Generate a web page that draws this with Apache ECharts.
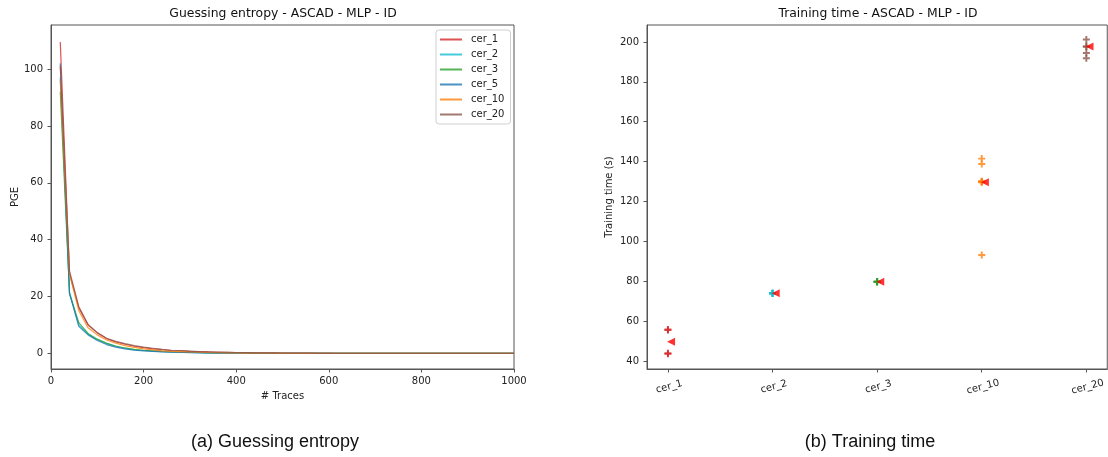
<!DOCTYPE html>
<html>
<head>
<meta charset="utf-8">
<script src="https://cdn.jsdelivr.net/npm/echarts@6/dist/echarts.min.js"></script>
<style>
  html, body { margin: 0; padding: 0; background: #fff; }
  #chart { width: 1108px; height: 457px; }
</style>
</head>
<body>
<div id="chart"></div>
<script>
// --- guessing entropy (left) ---
const traces = [20, 40, 60, 80, 100, 120, 140, 160, 180, 200, 220, 240, 260, 280, 300, 320, 340, 360, 380, 400,
  420, 440, 460, 480, 500, 520, 540, 560, 580, 600, 620, 640, 660, 680, 700, 720, 740, 760, 780, 800,
  820, 840, 860, 880, 900, 920, 940, 960, 980, 1000];
const geNames = ['cer_1', 'cer_2', 'cer_3', 'cer_5', 'cer_10', 'cer_20'];
const geCer1 = [109.5, 28, 16, 10, 7.2, 5.2, 4.0, 3.2, 2.5, 2.0, 1.6, 1.3, 1.0, 0.9, 0.7, 0.6, 0.5, 0.4, 0.35, 0.3,
  0.25, 0.2, 0.2, 0.15, 0.1, 0.1, 0.1, 0.05, 0.05, 0.05, 0, 0, 0, 0, 0, 0, 0, 0, 0, 0, 0, 0, 0, 0, 0, 0, 0, 0, 0, 0];
const geCer2 = [97, 21.5, 10, 6.8, 4.8, 3.4, 2.4, 1.7, 1.2, 1.0, 0.8, 0.6, 0.5, 0.4, 0.3, 0.25, 0.2, 0.15, 0.1, 0.1,
  0.05, 0.05, 0, 0, 0, 0, 0, 0, 0, 0, 0, 0, 0, 0, 0, 0, 0, 0, 0, 0, 0, 0, 0, 0, 0, 0, 0, 0, 0, 0];
const geCer3 = [92, 21, 10.8, 7, 5, 3.6, 2.6, 1.9, 1.4, 1.1, 0.9, 0.7, 0.55, 0.45, 0.35, 0.3, 0.2, 0.15, 0.1, 0.1,
  0.05, 0.05, 0, 0, 0, 0, 0, 0, 0, 0, 0, 0, 0, 0, 0, 0, 0, 0, 0, 0, 0, 0, 0, 0, 0, 0, 0, 0, 0, 0];
const geCer5 = [102, 21, 9.5, 6.5, 4.5, 3.1, 2.2, 1.6, 1.1, 0.9, 0.7, 0.5, 0.4, 0.3, 0.25, 0.2, 0.15, 0.1, 0.1, 0.05,
  0.05, 0, 0, 0, 0, 0, 0, 0, 0, 0, 0, 0, 0, 0, 0, 0, 0, 0, 0, 0, 0, 0, 0, 0, 0, 0, 0, 0, 0, 0];
const geCer10 = [96, 28, 15, 9, 6.5, 4.7, 3.6, 2.7, 2.1, 1.6, 1.2, 0.9, 0.7, 0.6, 0.5, 0.4, 0.3, 0.25, 0.2, 0.15,
  0.1, 0.1, 0.05, 0.05, 0, 0, 0, 0, 0, 0, 0, 0, 0, 0, 0, 0, 0, 0, 0, 0, 0, 0, 0, 0, 0, 0, 0, 0, 0, 0];
const geCer20 = [101, 29, 16.5, 10.2, 7.3, 5.3, 4.2, 3.4, 2.7, 2.2, 1.8, 1.4, 1.1, 1.0, 0.8, 0.6, 0.5, 0.45, 0.4, 0.3,
  0.25, 0.2, 0.15, 0.15, 0.1, 0.1, 0.05, 0.05, 0, 0, 0, 0, 0, 0, 0, 0, 0, 0, 0, 0, 0, 0, 0, 0, 0, 0, 0, 0, 0, 0];
const geValues = [geCer1, geCer2, geCer3, geCer5, geCer10, geCer20];
const geColors = ['#d62728', '#17becf', '#2ca02c', '#1f77b4', '#ff7f0e', '#8c564b'];
const geTicksY = [0, 20, 40, 60, 80, 100];

// --- training time (right) ---
const ttCategories = ['cer_1', 'cer_2', 'cer_3', 'cer_10', 'cer_20'];
const ttRuns = [
  [55.8, 55.5, 43.9, 43.6],
  [74.1, 73.9, 74.0, 73.8],
  [79.8, 79.6, 79.7, 79.9],
  [141.5, 138.8, 130.0, 129.6, 130.2, 129.8, 93.2],
  [201.2, 197.8, 197.6, 194.5, 191.8]
];
const ttMeans = [49.7, 74.0, 79.7, 129.7, 197.7];
const ttColors = ['#d62728', '#17becf', '#2ca02c', '#ff7f0e', '#8c564b'];
const ttTicksY = [40, 60, 80, 100, 120, 140, 160, 180, 200];
const meanShift = 0.03;

const FONT = 'DejaVu Sans';
const plusPath = 'path://M-1.1,-4 L1.1,-4 L1.1,-1.1 L4,-1.1 L4,1.1 L1.1,1.1 L1.1,4 L-1.1,4 L-1.1,1.1 L-4,1.1 L-4,-1.1 L-1.1,-1.1 Z';

const axisCommon = {
  axisLine: { show: true, onZero: false, lineStyle: { color: '#555', width: 1 } },
  axisTick: { show: true, inside: false, length: 3.5, lineStyle: { color: '#555' } },
  splitLine: { show: false },
  axisLabel: { color: '#222', fontFamily: FONT, fontSize: 10 },
  nameTextStyle: { color: '#222', fontFamily: FONT, fontSize: 10 }
};

const chart = echarts.init(document.getElementById('chart'));

const series = [];
geNames.forEach((name, i) => {
  series.push({
    name: name,
    type: 'line',
    xAxisIndex: 0,
    yAxisIndex: 0,
    showSymbol: false,
    symbol: 'none',
    animation: false,
    data: traces.map((t, j) => [t, geValues[i][j]]),
    itemStyle: { color: geColors[i], opacity: 0.8 },
    lineStyle: { color: geColors[i], width: 1.2, opacity: 0.8 }
  });
});
ttRuns.forEach((runs, i) => {
  series.push({
    type: 'scatter',
    xAxisIndex: 1,
    yAxisIndex: 1,
    symbol: plusPath,
    symbolSize: 7,
    animation: false,
    itemStyle: { color: ttColors[i] },
    data: runs.map(v => [i, v])
  });
});
series.push({
  type: 'scatter',
  xAxisIndex: 1,
  yAxisIndex: 1,
  symbol: 'triangle',
  symbolRotate: 90,
  symbolSize: 8,
  animation: false,
  itemStyle: { color: '#ff0000' },
  data: ttMeans.map((v, i) => [i + meanShift, v])
});

const option = {
  backgroundColor: '#fff',
  animation: false,
  textStyle: { fontFamily: FONT },
  grid: [
    { left: 51, top: 25, width: 463, height: 344, show: true, borderColor: '#555', borderWidth: 1, backgroundColor: 'transparent' },
    { left: 647, top: 25, width: 463, height: 344, show: true, borderColor: '#555', borderWidth: 1, backgroundColor: 'transparent' }
  ],
  legend: {
    data: geNames,
    orient: 'vertical',
    left: 436,
    top: 30,
    padding: [4, 6, 4, 4],
    itemWidth: 22,
    itemHeight: 2,
    itemGap: 4,
    icon: 'rect',
    backgroundColor: '#fff',
    borderColor: '#d0d0d0',
    borderWidth: 1,
    borderRadius: 3,
    textStyle: { color: '#222', fontFamily: FONT, fontSize: 10, lineHeight: 11, padding: [0, 0, 0, 4] }
  },
  xAxis: [
    Object.assign({}, axisCommon, {
      gridIndex: 0, type: 'value', min: 0, max: 1000, interval: 200,
      name: '# Traces', nameLocation: 'middle', nameGap: 22,
      axisLabel: Object.assign({}, axisCommon.axisLabel, { margin: 7, formatter: v => String(v) })
    }),
    Object.assign({}, axisCommon, {
      gridIndex: 1, type: 'value', min: -0.2, max: 4.2,
      axisTick: Object.assign({}, axisCommon.axisTick, { customValues: [0, 1, 2, 3, 4] }),
      axisLabel: Object.assign({}, axisCommon.axisLabel, {
        customValues: [0, 1, 2, 3, 4],
        rotate: 15, align: 'center', verticalAlign: 'top', margin: 13,
        formatter: v => ttCategories[Math.round(v)]
      })
    })
  ],
  yAxis: [
    Object.assign({}, axisCommon, {
      gridIndex: 0, type: 'value', min: -5.5, max: 115.5,
      name: 'PGE', nameLocation: 'middle', nameGap: 31,
      axisTick: Object.assign({}, axisCommon.axisTick, { customValues: geTicksY }),
      axisLabel: Object.assign({}, axisCommon.axisLabel, { customValues: geTicksY, margin: 8 })
    }),
    Object.assign({}, axisCommon, {
      gridIndex: 1, type: 'value', min: 36, max: 208.5,
      name: 'Training time (s)', nameLocation: 'middle', nameGap: 33,
      axisTick: Object.assign({}, axisCommon.axisTick, { customValues: ttTicksY }),
      axisLabel: Object.assign({}, axisCommon.axisLabel, { customValues: ttTicksY, margin: 8 })
    })
  ],
  graphic: [
    { type: 'text', x: 283, y: 14, style: { text: 'Guessing entropy - ASCAD - MLP - ID', fill: '#111', font: '12.4px "DejaVu Sans"', align: 'center', verticalAlign: 'middle' } },
    { type: 'text', x: 878, y: 14, style: { text: 'Training time - ASCAD - MLP - ID', fill: '#111', font: '12.4px "DejaVu Sans"', align: 'center', verticalAlign: 'middle' } },
    { type: 'text', x: 275, y: 442, style: { text: '(a) Guessing entropy', fill: '#111', font: '18px "Liberation Sans"', align: 'center', verticalAlign: 'middle' } },
    { type: 'text', x: 870, y: 442, style: { text: '(b) Training time', fill: '#111', font: '18px "Liberation Sans"', align: 'center', verticalAlign: 'middle' } }
  ],
  series: series
};

chart.setOption(option);
</script>
</body>
</html>
